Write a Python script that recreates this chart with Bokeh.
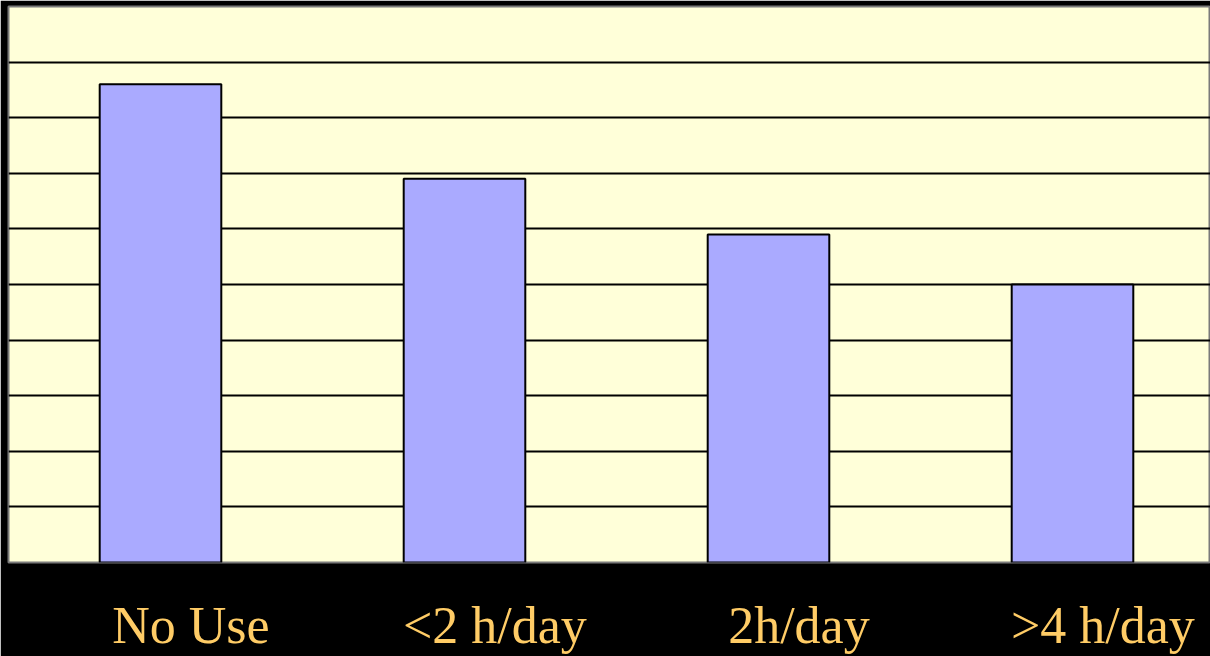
from bokeh.plotting import figure
from bokeh.models import Range1d, FixedTicker, ColumnDataSource
from bokeh.embed import file_html
from bokeh.resources import INLINE

categories = ["No Use", "<2 h/day", "2h/day", ">4 h/day"]
values = [8.6, 6.9, 5.9, 5.0]
grid_ticks = [1, 2, 3, 4, 5, 6, 7, 8, 9]

xpos = [i + 0.5 for i in range(len(categories))]
label_pos = [round(x + 0.1, 2) for x in xpos]
src = ColumnDataSource(dict(x=xpos, top=values, cat=categories))

p = figure(width=1210, height=656, output_backend="svg", toolbar_location=None,
           x_range=Range1d(0, 1202 / 304), y_range=Range1d(0, 10),
           min_border_left=8, min_border_right=0, min_border_top=6, min_border_bottom=91)
p.border_fill_color = "black"
p.background_fill_color = "#FFFFD9"
p.outline_line_color = "#7a7a7a"
p.outline_line_width = 2
p.yaxis.visible = False
p.xgrid.visible = False
p.ygrid.ticker = FixedTicker(ticks=grid_ticks)
p.ygrid.grid_line_color = "black"
p.ygrid.grid_line_width = 2

ax = p.xaxis[0]
ax.ticker = FixedTicker(ticks=label_pos)
ax.major_label_overrides = {lp: c for lp, c in zip(label_pos, categories)}
ax.axis_line_color = None
ax.major_tick_line_color = None
ax.minor_tick_line_color = None
ax.major_tick_out = 0
ax.major_label_standoff = 34
ax.major_label_text_font = "Liberation Serif"
ax.major_label_text_font_size = "52px"
ax.major_label_text_color = "#FFCC66"

p.vbar(x="x", top="top", bottom=0, width=0.4, source=src,
       fill_color="#AAAAFF", line_color="black", line_width=2)

open("out.html", "w").write(file_html(p, INLINE))
